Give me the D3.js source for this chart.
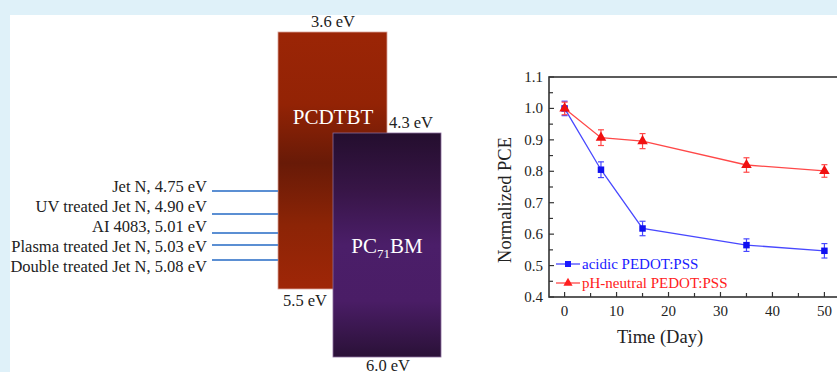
<!DOCTYPE html>
<html>
<head>
<meta charset="utf-8">
<script src="https://cdn.jsdelivr.net/npm/d3@7"></script>
<style>
  body { margin: 0; background: #dff1f9; }
  svg { display: block; font-family: "Liberation Serif", "Times New Roman", serif; }
</style>
</head>
<body>
<svg id="fig" width="837" height="372"></svg>
<script>
// energy levels (eV)
var donor = { name: "PCDTBT", lumo: 3.6, homo: 5.5 };
var acceptor = { name: "PC", sub: "71", tail: "BM", lumo: 4.3, homo: 6.0 };
var electrodes = ["Jet N", "UV treated Jet N", "AI 4083", "Plasma treated Jet N", "Double treated Jet N"];
var workFns = [4.75, 4.90, 5.01, 5.03, 5.08];

// stability data
var days = [0, 7, 15, 35, 50];
var acidic = [1.0, 0.805, 0.618, 0.565, 0.547];
var acidicErr = [0.023, 0.025, 0.023, 0.02, 0.023];
var neutral = [1.0, 0.907, 0.896, 0.820, 0.801];
var neutralErr = [0.02, 0.025, 0.024, 0.023, 0.02];
var yTicks = [0.4, 0.5, 0.6, 0.7, 0.8, 0.9, 1.0, 1.1];
var xTicks = [0, 10, 20, 30, 40, 50];

var svg = d3.select("#fig");
svg.append("rect").attr("x", 10).attr("y", 15).attr("width", 827).attr("height", 357).attr("fill", "#fff");

var defs = svg.append("defs");
function grad(id, stops) {
  var g = defs.append("linearGradient").attr("id", id).attr("x1", 0).attr("y1", 0).attr("x2", 0).attr("y2", 1);
  stops.forEach(function(s) { g.append("stop").attr("offset", s[0]).attr("stop-color", s[1]); });
}
grad("redGrad", [["0%", "#9b2506"], ["28%", "#932305"], ["51%", "#681a07"], ["75%", "#8c2406"], ["100%", "#9f2607"]]);
grad("purpGrad", [["0%", "#240e2e"], ["25%", "#371546"], ["50%", "#4b1e69"], ["75%", "#4a1d66"], ["100%", "#2a1137"]]);

// schematic energy axis (not to scale in the original, so piecewise)
var yE = d3.scaleLinear()
  .domain([3.6, 4.3, 4.75, 4.90, 5.01, 5.03, 5.08, 5.5, 6.0])
  .range([32, 133, 191, 214, 233, 245, 260, 289, 357]);

var left = svg.append("g");

left.append("rect").attr("x", 278).attr("width", 109)
  .attr("y", yE(donor.lumo)).attr("height", yE(donor.homo) - yE(donor.lumo))
  .attr("fill", "url(#redGrad)").attr("stroke", "#d9a39a").attr("stroke-width", 0.8);
left.append("rect").attr("x", 333).attr("width", 108)
  .attr("y", yE(acceptor.lumo)).attr("height", yE(acceptor.homo) - yE(acceptor.lumo))
  .attr("fill", "url(#purpGrad)").attr("stroke", "#8a6c9c").attr("stroke-width", 0.8);

left.append("text").attr("x", 333).attr("y", 124).attr("text-anchor", "middle")
  .attr("fill", "#fff").attr("font-size", 21).text(donor.name);
var pcl = left.append("text").attr("x", 387).attr("y", 253).attr("text-anchor", "middle")
  .attr("fill", "#fff").attr("font-size", 21);
pcl.append("tspan").text(acceptor.name);
pcl.append("tspan").attr("font-size", 13).attr("dy", 5).text(acceptor.sub);
pcl.append("tspan").attr("dy", -5).text(acceptor.tail);

var eFont = 16.5;
left.append("text").attr("x", 333).attr("y", yE(donor.lumo) - 5).attr("text-anchor", "middle")
  .attr("font-size", eFont).attr("fill", "#222").text(donor.lumo.toFixed(1) + " eV");
left.append("text").attr("x", 389).attr("y", yE(acceptor.lumo) - 5)
  .attr("font-size", eFont).attr("fill", "#222").text(acceptor.lumo.toFixed(1) + " eV");
left.append("text").attr("x", 305).attr("y", yE(donor.homo) + 17).attr("text-anchor", "middle")
  .attr("font-size", eFont).attr("fill", "#222").text(donor.homo.toFixed(1) + " eV");
left.append("text").attr("x", 388).attr("y", yE(acceptor.homo) + 14).attr("text-anchor", "middle")
  .attr("font-size", eFont).attr("fill", "#222").text(acceptor.homo.toFixed(1) + " eV");

var labelY = d3.scalePoint().domain(electrodes).range([192, 272]);
left.selectAll(".wf").data(workFns).enter().append("line")
  .attr("x1", 212).attr("x2", 278)
  .attr("y1", function(d) { return yE(d); }).attr("y2", function(d) { return yE(d); })
  .attr("stroke", "#5b8fd3").attr("stroke-width", 2);
left.selectAll(".wfl").data(electrodes).enter().append("text")
  .attr("x", 207).attr("y", function(d) { return labelY(d); })
  .attr("text-anchor", "end").attr("font-size", 16.5).attr("fill", "#222")
  .text(function(d, i) { return d + ", " + workFns[i].toFixed(2) + " eV"; });

// right plot
var x = d3.scaleLinear().domain([-3, 53]).range([549, 840]);
var y = d3.scaleLinear().domain([0.4, 1.1]).range([297, 77]);
var plot = svg.append("g");

var minorY = d3.range(0.45, 1.1, 0.1);
plot.selectAll(".ty").data(yTicks).enter().append("line")
  .attr("x1", 549).attr("x2", 554).attr("y1", function(d) { return y(d); }).attr("y2", function(d) { return y(d); })
  .attr("stroke", "#333").attr("stroke-width", 1.2);
plot.selectAll(".my").data(minorY).enter().append("line")
  .attr("x1", 549).attr("x2", 553).attr("y1", function(d) { return y(d); }).attr("y2", function(d) { return y(d); })
  .attr("stroke", "#333").attr("stroke-width", 1.2);
var minorX = d3.range(5, 55, 10);
plot.selectAll(".tx").data(xTicks).enter().append("line")
  .attr("y1", 297).attr("y2", 292).attr("x1", function(d) { return x(d); }).attr("x2", function(d) { return x(d); })
  .attr("stroke", "#333").attr("stroke-width", 1.2);
plot.selectAll(".mx").data(minorX).enter().append("line")
  .attr("y1", 297).attr("y2", 293).attr("x1", function(d) { return x(d); }).attr("x2", function(d) { return x(d); })
  .attr("stroke", "#333").attr("stroke-width", 1.2);

plot.append("rect").attr("x", 549).attr("y", 77).attr("width", 291).attr("height", 220)
  .attr("fill", "none").attr("stroke", "#333").attr("stroke-width", 1.6);

plot.selectAll(".yl").data(yTicks).enter().append("text")
  .attr("x", 543).attr("y", function(d) { return y(d) + 5; }).attr("text-anchor", "end")
  .attr("font-size", 15).attr("fill", "#222").text(function(d) { return d.toFixed(1); });
plot.selectAll(".xl").data(xTicks).enter().append("text")
  .attr("x", function(d) { return x(d); }).attr("y", 316).attr("text-anchor", "middle")
  .attr("font-size", 15).attr("fill", "#222").text(function(d) { return d; });

plot.append("text").attr("x", 660).attr("y", 343).attr("text-anchor", "middle")
  .attr("font-size", 18.5).attr("fill", "#222").text("Time (Day)");
plot.append("text").attr("transform", "translate(511,200) rotate(-90)").attr("text-anchor", "middle")
  .attr("font-size", 18.5).attr("fill", "#222").text("Normalized PCE");

function series(vals, errs, lineCol, markCol, shape) {
  var pts = days.map(function(d, i) { return { t: d, v: vals[i], e: errs[i] }; });
  var line = d3.line().x(function(d) { return x(d.t); }).y(function(d) { return y(d.v); });
  plot.append("path").datum(pts).attr("d", line).attr("fill", "none")
    .attr("stroke", lineCol).attr("stroke-width", 1.3);
  var eb = plot.append("g").attr("stroke", lineCol).attr("stroke-width", 1.2);
  pts.forEach(function(p) {
    var cx = x(p.t);
    eb.append("line").attr("x1", cx).attr("x2", cx).attr("y1", y(p.v - p.e)).attr("y2", y(p.v + p.e));
    eb.append("line").attr("x1", cx - 3).attr("x2", cx + 3).attr("y1", y(p.v - p.e)).attr("y2", y(p.v - p.e));
    eb.append("line").attr("x1", cx - 3).attr("x2", cx + 3).attr("y1", y(p.v + p.e)).attr("y2", y(p.v + p.e));
  });
  plot.selectAll(null).data(pts).enter().append("path")
    .attr("transform", function(d) { return "translate(" + x(d.t) + "," + y(d.v) + ")"; })
    .attr("d", d3.symbol().type(shape).size(shape === d3.symbolSquare ? 42 : 48))
    .attr("fill", markCol);
}
series(acidic, acidicErr, "#4848ff", "#1010f0", d3.symbolSquare);
series(neutral, neutralErr, "#ff4848", "#f01010", d3.symbolTriangle);

// legend
var leg = [
  { name: "acidic PEDOT:PSS", line: "#4848ff", col: "#1a1aff", shape: d3.symbolSquare, y: 264 },
  { name: "pH-neutral PEDOT:PSS", line: "#ff4848", col: "#ff2020", shape: d3.symbolTriangle, y: 283 }
];
leg.forEach(function(l) {
  plot.append("line").attr("x1", 556).attr("x2", 580).attr("y1", l.y).attr("y2", l.y)
    .attr("stroke", l.line).attr("stroke-width", 1.3);
  plot.append("path").attr("transform", "translate(568," + l.y + ")")
    .attr("d", d3.symbol().type(l.shape).size(36)).attr("fill", l.col);
  plot.append("text").attr("x", 582).attr("y", l.y + 5).attr("font-size", 15)
    .attr("fill", l.col).text(l.name);
});
</script>
</body>
</html>
